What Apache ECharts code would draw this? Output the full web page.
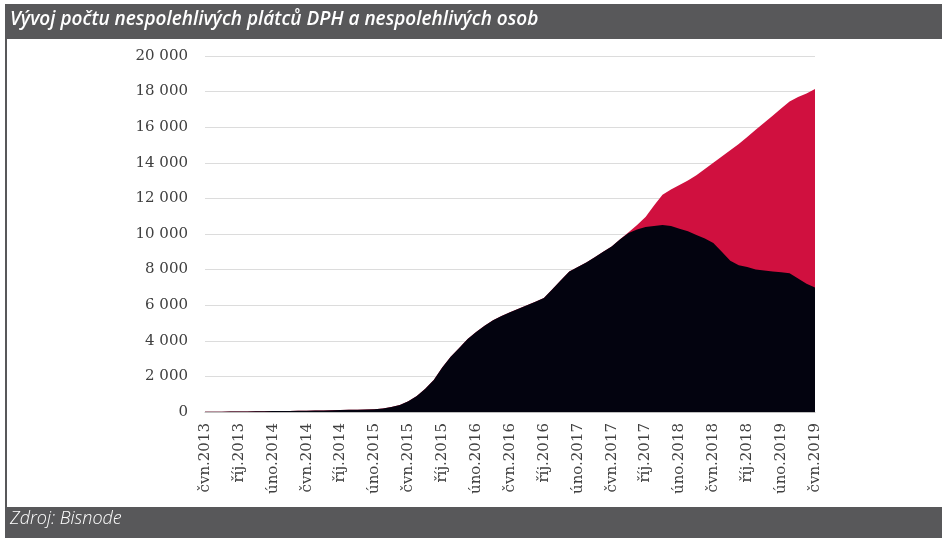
<!DOCTYPE html>
<html>
<head>
<meta charset="utf-8">
<script src="https://cdn.jsdelivr.net/npm/echarts@6/dist/echarts.min.js"></script>
<style>
  html, body { margin: 0; padding: 0; background: #fff; }
  #chart { width: 942px; height: 538px; }
</style>
</head>
<body>
<div id="chart"></div>
<script>
// month abbreviations (Czech), data run from čvn.2013 to čvn.2019
var monthNames = ['led', 'úno', 'bře', 'dub', 'kvě', 'čvn', 'čvc', 'srp', 'zář', 'říj', 'lis', 'pro'];
var categories = [];
for (var i = 0; i < 73; i++) {
    var m = (5 + i) % 12;
    var y = 2013 + Math.floor((5 + i) / 12);
    categories.push(monthNames[m] + '.' + y);
}

// nespolehliví plátci DPH (black)
var platciDPH = [
    10, 15, 20, 25, 30, 35, 40, 45, 50, 55, 60, 65, 70,
    80, 90, 100, 110, 120, 130, 140, 160, 200, 280, 400,
    600, 900, 1300, 1800, 2500, 3100, 3600, 4100, 4500, 4850, 5150, 5400,
    5600, 5800, 6000, 6200, 6400, 6900, 7400, 7900, 8150, 8400, 8700, 9000,
    9300, 9700, 10050, 10250, 10400, 10450, 10500, 10450, 10300, 10150, 9950, 9750,
    9500, 9000, 8500, 8250, 8150, 8000, 7950, 7900, 7850, 7800, 7500, 7200,
    7000
];

// nespolehlivé osoby + plátci (red)
var celkem = [
    10, 15, 20, 25, 30, 35, 40, 45, 50, 55, 60, 65, 70,
    80, 90, 100, 110, 120, 130, 140, 160, 200, 280, 400,
    600, 900, 1300, 1800, 2500, 3100, 3600, 4100, 4500, 4850, 5150, 5400,
    5600, 5800, 6000, 6200, 6400, 6900, 7400, 7900, 8150, 8400, 8700, 9000,
    9300, 9700, 10100, 10500, 10950, 11600, 12200, 12500, 12750, 13000, 13300, 13650,
    14000, 14350, 14700, 15050, 15450, 15850, 16250, 16650, 17050, 17450, 17700, 17900,
    18150
];

var titleText = 'Vývoj počtu nespolehlivých plátců DPH a nespolehlivých osob';
var sourceText = 'Zdroj: Bisnode';

var chart = echarts.init(document.getElementById('chart'));

chart.setOption({
    animation: false,
    backgroundColor: '#ffffff',
    graphic: [
        { type: 'rect', shape: { x: 5, y: 4, width: 937, height: 35 }, style: { fill: '#58585a' } },
        { type: 'rect', shape: { x: 5, y: 39, width: 2, height: 468 }, style: { fill: '#58585a' } },
        { type: 'rect', shape: { x: 5, y: 507, width: 937, height: 31 }, style: { fill: '#58585a' } },
        {
            type: 'text', left: 10, top: 10,
            style: {
                text: titleText, fill: '#ffffff',
                font: 'italic 600 19px "Open Sans"'
            }
        },
        {
            type: 'text', left: 10, top: 510,
            style: {
                text: sourceText, fill: '#ffffff',
                font: 'italic 300 18px "Open Sans"'
            }
        }
    ],
    grid: {
        left: 205,
        right: 127,
        top: 56,
        bottom: 126
    },
    xAxis: {
        type: 'category',
        boundaryGap: false,
        data: categories,
        axisLine: { lineStyle: { color: '#bfbfbf', width: 1 } },
        axisTick: { show: false },
        axisLabel: {
            interval: 3,
            rotate: 90,
            margin: 11,
            color: '#404040',
            fontFamily: 'DejaVu Serif',
            fontSize: 15
        },
        splitLine: { show: false }
    },
    yAxis: {
        type: 'value',
        min: 0,
        max: 20000,
        interval: 2000,
        axisLine: { show: false },
        axisTick: { show: false },
        axisLabel: {
            margin: 17,
            color: '#404040',
            fontFamily: 'DejaVu Serif',
            fontSize: 15,
            formatter: function (v) {
                return String(v).replace(/\B(?=(\d{3})+(?!\d))/g, ' ');
            }
        },
        splitLine: { lineStyle: { color: '#dcdcdc', width: 1 } }
    },
    series: [
        {
            name: 'Nespolehlivé osoby',
            type: 'line',
            data: celkem,
            symbol: 'none',
            lineStyle: { width: 0 },
            areaStyle: { color: '#d0103f', opacity: 1 },
            z: 1
        },
        {
            name: 'Nespolehliví plátci DPH',
            type: 'line',
            data: platciDPH,
            symbol: 'none',
            lineStyle: { width: 0 },
            areaStyle: { color: '#03030f', opacity: 1 },
            z: 2
        }
    ]
});
</script>
</body>
</html>
